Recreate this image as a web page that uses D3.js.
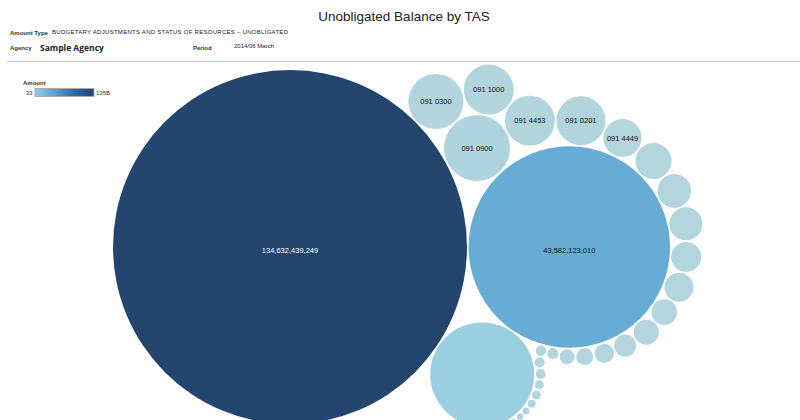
<!DOCTYPE html>
<html>
<head>
<meta charset="utf-8">
<script src="https://d3js.org/d3.v7.min.js"></script>
<style>
  body { margin: 0; background: #fff; }
  svg { display: block; font-family: "Liberation Sans", Arial, sans-serif; }
</style>
</head>
<body>
<div id="vis"></div>
<script>
const WIDTH = 800;
const HEIGHT = 420;

// amounts, sorted largest first (bubbles spiral outward in this order)
const amounts = [
  134632439249, 43582123010, 11620417112, 4679842311, 3249880553,
  2685860126, 2671204930, 2579447870, 1551350221, 1392349017,
  1212891433, 1169960125, 966909004, 903523218, 704082117,
  671465320, 519982201, 404340512, 310485093, 241727160,
  129996041, 116201118, 107434302, 105120117, 87022519,
  85310430, 68758116, 52643020, 46798127, 38676330,
  37910114, 31328104, 26859227, 22733103, 17189400,
  13923015, 11001226, 8423110, 6188270, 4297115,
  2750042, 1547300, 33
];
// TAS codes shown inside the medium bubbles
const tasCodes = [
  null, null, null, "091 0900", "091 0300",
  "091 1000", "091 4453", "091 0201", "091 4449"
];
const legendMin = "33";
const legendMax = "135B";

const colorStops = [33, 5e9, 11.6e9, 43.6e9, 134.6e9];
const colorRange = ["#b4d5dd", "#b0d4dd", "#99cfe0", "#67acd5", "#24456e"];

const svg = d3.select("#vis").append("svg")
  .attr("width", WIDTH)
  .attr("height", HEIGHT);

// title + header block
svg.append("text")
  .attr("x", 404).attr("y", 21)
  .attr("text-anchor", "middle")
  .attr("font-size", 13.5)
  .attr("fill", "#222")
  .text("Unobligated Balance by TAS");

svg.append("text")
  .attr("x", 10).attr("y", 35)
  .attr("font-size", 6).attr("font-weight", "bold").attr("fill", "#333")
  .text("Amount Type");
svg.append("text")
  .attr("x", 52).attr("y", 34)
  .attr("font-size", 6).attr("fill", "#222")
  .attr("textLength", 236)
  .text("BUDGETARY ADJUSTMENTS AND STATUS OF RESOURCES \u2013 UNOBLIGATED");
svg.append("text")
  .attr("x", 10).attr("y", 50)
  .attr("font-size", 6).attr("font-weight", "bold").attr("fill", "#333")
  .text("Agency");
svg.append("text")
  .attr("x", 40).attr("y", 51)
  .attr("font-family", "'Open Sans', sans-serif")
  .attr("font-size", 8.5).attr("font-weight", "bold").attr("fill", "#222")
  .text("Sample Agency");
svg.append("text")
  .attr("x", 193).attr("y", 50)
  .attr("font-size", 6).attr("font-weight", "bold").attr("fill", "#333")
  .text("Period");
svg.append("text")
  .attr("x", 234).attr("y", 48)
  .attr("font-size", 6).attr("fill", "#222")
  .text("2014/06 March");

svg.append("line")
  .attr("x1", 7).attr("x2", WIDTH)
  .attr("y1", 61.5).attr("y2", 61.5)
  .attr("stroke", "#d2d2d2").attr("stroke-width", 1.5);

// bubble sizes / colours
const radius = d3.scaleSqrt().domain([0, d3.max(amounts)]).range([0, 177]);
const color = d3.scaleLinear().domain(colorStops).range(colorRange);
const PAD = 0.8;

const nodes = amounts.map((v, i) => ({ value: v, code: tasCodes[i], i: i, r: radius(v) + PAD }));

// spiral packing: each bubble sits against the last one placed and the
// chain circle it is wrapping around (clockwise on screen)
function between(a, b, r) {
  const dx = b.x - a.x, dy = b.y - a.y;
  const d2 = dx * dx + dy * dy, d = Math.sqrt(d2);
  const ra = a.r + r, rb = b.r + r;
  const t = (ra * ra - rb * rb + d2) / (2 * d2);
  const h = Math.sqrt(Math.max(0, ra * ra - t * t * d2)) / d;
  return { x: a.x + t * dx + h * dy, y: a.y + t * dy - h * dx };
}
function hit(p, q) {
  const dx = q.x - p.x, dy = q.y - p.y, dr = p.r + q.r - 0.001;
  return dr > 0 && dr * dr > dx * dx + dy * dy;
}
function link(p, q) { p.next = q; q.prev = p; }

function pack(list) {
  const A = list[0], B = list[1], C = list[2], D = list[3];
  A.x = 0; A.y = 0;
  B.x = A.r + B.r; B.y = 0;
  Object.assign(C, between(B, A, C.r));
  Object.assign(D, between(A, B, D.r));
  link(A, D); link(D, B); link(B, C); link(C, A);
  let a = A, b = D;
  for (let i = 4; i < list.length; i++) {
    const c = list[i];
    Object.assign(c, between(a, b, c.r));
    let j = null, s1 = 1;
    for (let p = b.next; p !== a; p = p.next, s1++) {
      if (hit(p, c)) { j = p; break; }
    }
    let k = null, s2 = 1;
    for (let p = a.prev; p !== b && p !== j; p = p.prev, s2++) {
      if (hit(p, c)) { k = p; break; }
    }
    if (j || k) {
      if (j && (!k || s1 <= s2)) { b = j; link(a, b); }
      else { a = k; link(a, b); }
      i--;
      continue;
    }
    link(a, c); link(c, b);
    a = c;
  }
}
pack(nodes);

// put the largest bubble where it sits in the reference
const cx = 290 - nodes[0].x;
const cy = 247 - nodes[0].y;

const g = svg.append("g").attr("transform", "translate(" + cx + "," + cy + ")");

g.selectAll("circle")
  .data(nodes)
  .enter()
  .append("circle")
    .attr("cx", d => d.x)
    .attr("cy", d => d.y)
    .attr("r", d => Math.max(0, d.r - PAD))
    .attr("fill", d => color(d.value));

const fmt = d3.format(",");
g.selectAll("text.lbl")
  .data(nodes.filter(d => d.i < 2 || d.code))
  .enter()
  .append("text")
    .attr("class", "lbl")
    .attr("x", d => d.x)
    .attr("y", d => d.y + (d.i < 2 ? 6 : 2.5))
    .attr("text-anchor", "middle")
    .attr("font-size", 7.5)
    .attr("fill", d => d.i === 0 ? "#fff" : "#111")
    .text(d => d.code ? d.code : fmt(d.value));

// legend
const defs = svg.append("defs");
const grad = defs.append("linearGradient").attr("id", "amt");
grad.selectAll("stop")
  .data(["#93cbe2", "#5d9fcf", "#2f6aa4", "#1f4472"])
  .enter().append("stop")
    .attr("offset", (d, i) => i / 3)
    .attr("stop-color", d => d);

svg.append("text")
  .attr("x", 23).attr("y", 85)
  .attr("font-size", 6).attr("font-weight", "bold").attr("fill", "#333")
  .text("Amount");
svg.append("rect")
  .attr("x", 35).attr("y", 88.5)
  .attr("width", 59).attr("height", 8)
  .attr("fill", "url(#amt)")
  .attr("stroke", "#aaa").attr("stroke-width", 1);
svg.append("text")
  .attr("x", 26).attr("y", 94.5)
  .attr("font-size", 6).attr("fill", "#333")
  .text(legendMin);
svg.append("text")
  .attr("x", 96).attr("y", 94.5)
  .attr("font-size", 6).attr("fill", "#333")
  .text(legendMax);
</script>
</body>
</html>
